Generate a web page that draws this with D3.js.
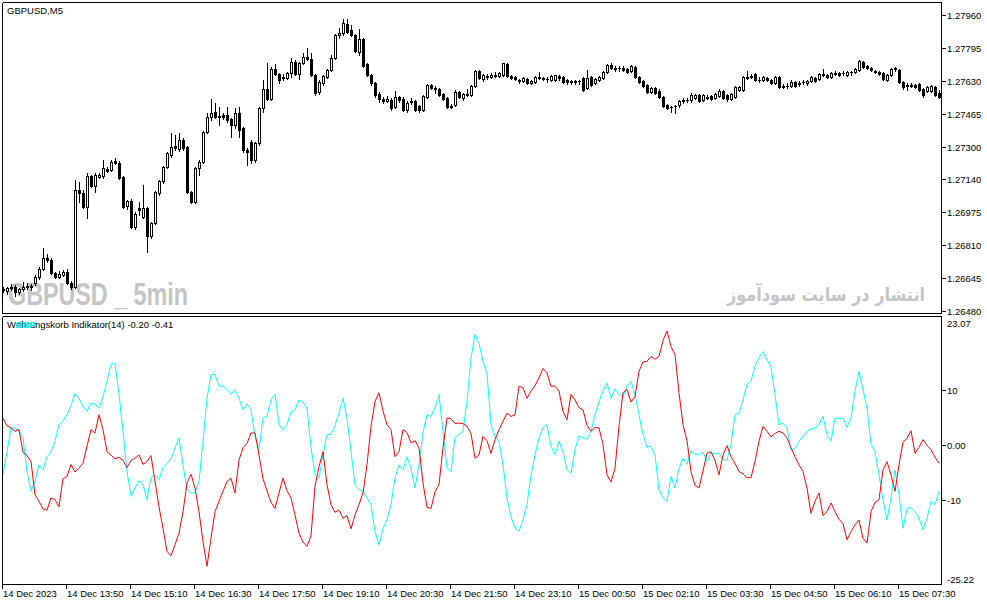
<!DOCTYPE html>
<html>
<head>
<meta charset="utf-8">
<script src="https://cdn.jsdelivr.net/npm/d3@7"></script>
<style>
html, body { margin: 0; padding: 0; background: #fff; }
svg { display: block; font-family: "Liberation Sans", Arial, sans-serif; }
</style>
</head>
<body>
<div id="chart"></div>
<script>
// GBPUSD M5 candles, one per 5 minute bar (14 Dec 12:30 -> 15 Dec 08:00)
const opens = [1.26585,1.26580,1.26595,1.26600,1.26575,1.26590,1.26600,1.26605,1.26620,1.26650,
1.26690,1.26745,1.26735,1.26670,1.26650,1.26660,1.26675,1.26620,1.26600,1.27085,
1.27070,1.27000,1.27155,1.27105,1.27150,1.27155,1.27190,1.27185,1.27230,1.27220,
1.27150,1.27005,1.27030,1.26900,1.26995,1.26950,1.26995,1.26855,1.26920,1.27070,
1.27130,1.27200,1.27260,1.27305,1.27290,1.27335,1.27300,1.27075,1.27025,1.27195,
1.27225,1.27375,1.27450,1.27475,1.27455,1.27460,1.27460,1.27440,1.27410,1.27470,
1.27395,1.27285,1.27325,1.27235,1.27320,1.27495,1.27590,1.27540,1.27690,1.27665,
1.27650,1.27645,1.27670,1.27725,1.27665,1.27720,1.27750,1.27740,1.27660,1.27575,
1.27620,1.27650,1.27685,1.27745,1.27860,1.27870,1.27915,1.27885,1.27860,1.27775,
1.27840,1.27715,1.27660,1.27620,1.27565,1.27540,1.27530,1.27535,1.27500,1.27550,
1.27540,1.27485,1.27530,1.27530,1.27505,1.27485,1.27550,1.27610,1.27595,1.27590,
1.27565,1.27545,1.27500,1.27510,1.27575,1.27545,1.27560,1.27560,1.27605,1.27680,
1.27640,1.27655,1.27650,1.27660,1.27655,1.27660,1.27715,1.27655,1.27650,1.27635,
1.27630,1.27640,1.27620,1.27625,1.27650,1.27645,1.27640,1.27635,1.27635,1.27655,
1.27650,1.27635,1.27630,1.27625,1.27630,1.27645,1.27595,1.27650,1.27620,1.27635,
1.27645,1.27675,1.27710,1.27695,1.27695,1.27695,1.27690,1.27680,1.27700,1.27650,
1.27630,1.27610,1.27575,1.27595,1.27580,1.27550,1.27510,1.27500,1.27505,1.27510,
1.27530,1.27535,1.27535,1.27545,1.27560,1.27535,1.27550,1.27555,1.27545,1.27555,
1.27580,1.27560,1.27540,1.27550,1.27585,1.27585,1.27650,1.27650,1.27665,1.27635,
1.27635,1.27645,1.27635,1.27620,1.27650,1.27605,1.27605,1.27605,1.27625,1.27620,
1.27625,1.27620,1.27630,1.27645,1.27640,1.27665,1.27660,1.27650,1.27670,1.27670,
1.27670,1.27660,1.27675,1.27675,1.27685,1.27725,1.27705,1.27695,1.27680,1.27675,
1.27670,1.27635,1.27660,1.27690,1.27685,1.27625,1.27610,1.27605,1.27610,1.27615,
1.27590,1.27580,1.27580,1.27600,1.27570];

const highs = [1.26600,1.26600,1.26615,1.26610,1.26595,1.26625,1.26620,1.26615,1.26660,1.26700,
1.26795,1.26765,1.26745,1.26675,1.26680,1.26685,1.26690,1.26630,1.27135,1.27125,
1.27085,1.27170,1.27160,1.27170,1.27170,1.27235,1.27200,1.27235,1.27245,1.27230,
1.27155,1.27035,1.27040,1.26975,1.27025,1.27110,1.27000,1.26925,1.27080,1.27135,
1.27205,1.27275,1.27370,1.27360,1.27370,1.27345,1.27305,1.27080,1.27200,1.27235,
1.27380,1.27470,1.27540,1.27520,1.27500,1.27470,1.27500,1.27445,1.27495,1.27500,
1.27400,1.27295,1.27335,1.27325,1.27500,1.27635,1.27720,1.27700,1.27715,1.27670,
1.27665,1.27675,1.27745,1.27735,1.27725,1.27770,1.27795,1.27770,1.27665,1.27635,
1.27660,1.27690,1.27760,1.27865,1.27895,1.27940,1.27940,1.27910,1.27865,1.27890,
1.27845,1.27720,1.27665,1.27625,1.27575,1.27550,1.27555,1.27545,1.27580,1.27555,
1.27550,1.27530,1.27545,1.27535,1.27510,1.27560,1.27615,1.27615,1.27605,1.27595,
1.27570,1.27550,1.27515,1.27585,1.27580,1.27570,1.27590,1.27610,1.27685,1.27685,
1.27665,1.27665,1.27670,1.27675,1.27675,1.27720,1.27720,1.27660,1.27655,1.27640,
1.27650,1.27645,1.27635,1.27655,1.27675,1.27650,1.27650,1.27660,1.27660,1.27660,
1.27655,1.27640,1.27635,1.27635,1.27635,1.27650,1.27685,1.27655,1.27645,1.27655,
1.27680,1.27715,1.27720,1.27705,1.27705,1.27705,1.27695,1.27710,1.27705,1.27655,
1.27635,1.27615,1.27600,1.27600,1.27590,1.27555,1.27515,1.27505,1.27510,1.27535,
1.27545,1.27545,1.27570,1.27565,1.27565,1.27565,1.27560,1.27560,1.27570,1.27590,
1.27585,1.27565,1.27570,1.27605,1.27605,1.27655,1.27680,1.27665,1.27670,1.27650,
1.27655,1.27650,1.27640,1.27655,1.27655,1.27615,1.27620,1.27635,1.27630,1.27630,
1.27635,1.27635,1.27655,1.27650,1.27670,1.27690,1.27665,1.27675,1.27680,1.27675,
1.27680,1.27680,1.27680,1.27695,1.27735,1.27730,1.27710,1.27700,1.27685,1.27680,
1.27675,1.27665,1.27695,1.27700,1.27690,1.27630,1.27620,1.27620,1.27615,1.27620,
1.27595,1.27605,1.27610,1.27605,1.27585];

const lows = [1.26575,1.26565,1.26585,1.26555,1.26565,1.26580,1.26590,1.26585,1.26610,1.26640,
1.26685,1.26725,1.26665,1.26645,1.26645,1.26655,1.26615,1.26590,1.26595,1.27025,
1.26995,1.26945,1.27100,1.27075,1.27145,1.27145,1.27175,1.27180,1.27215,1.27140,
1.26995,1.26990,1.26895,1.26890,1.26960,1.26945,1.26775,1.26845,1.26915,1.27060,
1.27120,1.27195,1.27250,1.27285,1.27280,1.27285,1.27070,1.27020,1.27020,1.27160,
1.27220,1.27370,1.27435,1.27445,1.27410,1.27440,1.27425,1.27350,1.27395,1.27350,
1.27275,1.27210,1.27220,1.27225,1.27310,1.27475,1.27535,1.27535,1.27660,1.27620,
1.27635,1.27640,1.27650,1.27660,1.27640,1.27715,1.27735,1.27655,1.27560,1.27565,
1.27610,1.27645,1.27680,1.27740,1.27845,1.27860,1.27870,1.27855,1.27775,1.27760,
1.27700,1.27655,1.27610,1.27550,1.27525,1.27520,1.27525,1.27485,1.27495,1.27525,
1.27480,1.27475,1.27515,1.27480,1.27475,1.27480,1.27545,1.27590,1.27570,1.27555,
1.27535,1.27495,1.27495,1.27505,1.27545,1.27535,1.27555,1.27555,1.27600,1.27640,
1.27630,1.27640,1.27645,1.27650,1.27650,1.27655,1.27650,1.27640,1.27635,1.27620,
1.27625,1.27615,1.27615,1.27620,1.27640,1.27635,1.27625,1.27630,1.27630,1.27635,
1.27620,1.27615,1.27615,1.27615,1.27615,1.27580,1.27590,1.27605,1.27615,1.27630,
1.27640,1.27670,1.27690,1.27680,1.27680,1.27680,1.27670,1.27675,1.27645,1.27620,
1.27600,1.27570,1.27570,1.27565,1.27545,1.27500,1.27490,1.27475,1.27470,1.27500,
1.27520,1.27525,1.27525,1.27540,1.27525,1.27530,1.27540,1.27535,1.27540,1.27550,
1.27540,1.27530,1.27535,1.27545,1.27580,1.27580,1.27640,1.27645,1.27630,1.27625,
1.27630,1.27630,1.27615,1.27615,1.27595,1.27595,1.27595,1.27600,1.27600,1.27605,
1.27615,1.27610,1.27625,1.27625,1.27635,1.27655,1.27645,1.27645,1.27660,1.27655,
1.27660,1.27655,1.27660,1.27670,1.27680,1.27695,1.27690,1.27680,1.27670,1.27660,
1.27635,1.27630,1.27655,1.27680,1.27620,1.27590,1.27585,1.27600,1.27595,1.27580,
1.27550,1.27575,1.27575,1.27555,1.27545];

const closes = [1.26590,1.26595,1.26600,1.26575,1.26590,1.26600,1.26605,1.26600,1.26650,1.26690,
1.26745,1.26735,1.26670,1.26650,1.26665,1.26675,1.26620,1.26600,1.27085,1.27070,
1.27000,1.27155,1.27105,1.27160,1.27160,1.27195,1.27180,1.27225,1.27220,1.27145,
1.27000,1.27030,1.26900,1.26965,1.26985,1.26995,1.26855,1.26920,1.27075,1.27130,
1.27200,1.27270,1.27300,1.27295,1.27335,1.27295,1.27075,1.27025,1.27195,1.27225,
1.27375,1.27450,1.27470,1.27450,1.27450,1.27450,1.27435,1.27410,1.27470,1.27385,
1.27285,1.27275,1.27235,1.27320,1.27495,1.27590,1.27540,1.27690,1.27665,1.27635,
1.27645,1.27670,1.27725,1.27665,1.27720,1.27750,1.27740,1.27660,1.27570,1.27625,
1.27655,1.27685,1.27745,1.27860,1.27870,1.27920,1.27875,1.27860,1.27780,1.27840,
1.27705,1.27660,1.27620,1.27560,1.27540,1.27530,1.27540,1.27495,1.27550,1.27535,
1.27485,1.27520,1.27525,1.27485,1.27485,1.27555,1.27610,1.27595,1.27590,1.27560,
1.27540,1.27500,1.27505,1.27575,1.27550,1.27565,1.27565,1.27605,1.27680,1.27645,
1.27660,1.27650,1.27660,1.27655,1.27670,1.27720,1.27655,1.27645,1.27640,1.27630,
1.27645,1.27620,1.27630,1.27650,1.27645,1.27640,1.27640,1.27655,1.27660,1.27645,
1.27625,1.27625,1.27625,1.27630,1.27630,1.27585,1.27645,1.27610,1.27640,1.27650,
1.27675,1.27710,1.27695,1.27690,1.27695,1.27685,1.27675,1.27705,1.27650,1.27625,
1.27605,1.27575,1.27595,1.27570,1.27550,1.27505,1.27495,1.27500,1.27505,1.27530,
1.27535,1.27535,1.27560,1.27560,1.27530,1.27560,1.27545,1.27540,1.27565,1.27580,
1.27545,1.27540,1.27565,1.27600,1.27600,1.27650,1.27645,1.27655,1.27635,1.27635,
1.27650,1.27635,1.27620,1.27650,1.27600,1.27600,1.27605,1.27625,1.27605,1.27615,
1.27625,1.27630,1.27650,1.27630,1.27665,1.27660,1.27650,1.27670,1.27665,1.27660,
1.27670,1.27675,1.27675,1.27690,1.27730,1.27700,1.27695,1.27685,1.27675,1.27665,
1.27640,1.27660,1.27690,1.27695,1.27625,1.27600,1.27605,1.27610,1.27600,1.27585,
1.27560,1.27600,1.27605,1.27560,1.27550];

// Waehrungskorb indicator, one value per bar
const basketCyan = [-5.4,-1.2,3.1,3.1,2.6,1.3,-4.8,-8.4,-6.6,-3.6,
-4.5,-2.1,-1.2,0.7,3.7,4.4,5.5,7.2,9.3,8.5,
7.0,6.1,7.6,7.5,6.7,8.8,11.6,14.7,14.9,9.2,
2.5,-4.8,-9.3,-7.8,-6.5,-7.2,-9.9,-5.9,-5.4,-6.3,
-4.1,-3.3,-2.5,-0.5,1.3,-3.6,-8.1,-8.7,-8.7,-6.6,
0.7,8.5,12.8,12.8,10.7,10.7,10.1,9.2,10.1,8.5,
6.4,7.5,6.4,1.6,-0.8,4.9,5.2,8.2,9.2,3.7,
2.8,3.7,6.0,6.4,8.2,7.8,6.7,-0.3,-5.4,-6.0,
-1.8,1.9,1.9,3.6,5.8,8.5,4.9,-1.2,-7.2,-8.1,
-8.4,-9.6,-10.8,-15.7,-18.1,-15.2,-13.6,-10.8,-6.0,-3.6,
-4.5,-2.1,-4.2,-7.8,-3.6,2.2,5.5,5.2,6.7,9.2,
2.5,-4.2,-4.8,1.4,1.9,2.5,7.9,15.8,20.1,18.5,
15.2,12.9,3.7,1.6,0.7,-3.6,-9.6,-13.0,-15.1,-15.6,
-13.6,-10.8,-5.4,-1.8,1.3,3.2,3.7,-0.2,-1.8,0.7,
-1.2,-4.5,-5.1,-0.8,1.6,1.4,1.0,2.6,5.5,7.9,
9.8,11.3,8.5,10.2,9.2,8.8,10.7,11.6,9.2,5.5,
1.9,-0.4,-0.2,-1.8,-8.1,-9.6,-10.2,-5.7,-7.8,-4.2,
-2.4,-3.5,-1.0,-1.6,-1.8,-1.3,-3.0,-1.5,-1.5,-1.5,
-2.7,-2.7,0.1,5.5,5.8,8.2,11.0,11.6,14.3,15.9,
17.0,15.5,14.1,9.2,3.7,4.0,3.1,-0.8,-0.7,0.7,
1.5,2.5,2.9,3.1,3.7,5.2,1.9,0.7,4.9,4.8,
4.9,3.2,4.9,9.8,13.4,10.1,6.7,0.1,-1.2,-5.4,
-9.9,-13.6,-9.6,-4.5,-9.0,-15.1,-11.6,-11.3,-12.1,-13.3,
-15.4,-13.3,-10.2,-10.8,-8.4];

const basketRed = [4.9,3.5,3.1,2.5,2.8,-1.3,-1.9,-3.0,-9.0,-10.2,
-11.6,-11.8,-9.6,-9.9,-11.2,-6.1,-5.7,-3.5,-4.9,-4.2,
-3.3,-0.2,2.8,2.2,5.5,2.8,-1.2,-1.8,-2.5,-2.2,
-2.8,-4.1,-2.8,-2.4,-1.8,-3.5,-3.0,-1.9,-6.6,-11.2,
-15.1,-19.3,-20.1,-18.1,-16.0,-12.1,-6.9,-5.3,-7.8,-12.1,
-17.5,-22.0,-16.9,-12.1,-10.2,-8.4,-6.6,-6.0,-8.7,-2.7,
-0.5,0.3,2.2,2.2,-1.8,-6.1,-8.3,-10.4,-11.5,-8.7,
-6.0,-8.3,-9.6,-12.7,-16.0,-17.6,-18.4,-16.5,-7.5,-3.9,
-1.2,-7.2,-10.8,-12.2,-11.8,-13.3,-12.8,-15.2,-12.7,-10.8,
-8.7,-3.5,3.4,7.9,9.5,6.2,3.7,2.8,-2.1,-1.2,
2.8,2.3,0.4,0.8,-0.5,-6.9,-11.3,-11.5,-8.5,-7.2,
-0.5,4.9,4.8,3.9,4.0,3.9,3.4,2.1,-2.4,-1.8,
1.6,0.8,-1.5,1.0,2.8,4.3,5.8,5.2,5.5,10.7,
10.4,8.5,9.8,10.8,12.2,13.9,13.1,10.7,10.7,9.8,
6.1,4.6,9.2,8.2,6.8,6.4,3.6,2.5,3.2,3.1,
0.1,-5.4,-6.7,-4.2,3.4,9.5,10.1,7.8,8.8,13.4,
15.1,15.2,16.1,15.6,16.1,19.0,20.7,17.9,16.4,9.5,
3.7,0.8,-4.8,-7.3,-7.8,-4.7,-1.5,-1.2,-2.8,-5.4,
-1.8,-0.1,-2.1,-3.3,-4.8,-5.2,-5.9,-5.9,-3.0,0.7,
3.4,2.5,1.5,2.1,2.5,2.2,1.3,-0.5,-2.1,-3.6,
-4.8,-7.8,-12.4,-10.2,-8.7,-12.8,-12.1,-10.5,-12.1,-13.5,
-14.2,-17.2,-15.7,-14.5,-13.6,-16.9,-17.8,-12.1,-10.4,-9.9,
-4.5,-3.0,-5.4,-8.4,-3.6,0.5,1.2,2.6,-1.5,-0.4,
1.0,-0.1,-0.8,-2.2,-3.3];

// axis labels
const priceTicks = [1.27960, 1.27795, 1.27630, 1.27465, 1.27300, 1.27140, 1.26975, 1.26810, 1.26645, 1.26480];
const indTicks = [23.07, 10, 0, -10, -25.22];
const indTickLabels = ["23.07", "10", "0.00", "-10", "-25.22"];
const timeLabels = ["14 Dec 2023", "14 Dec 13:50", "14 Dec 15:10", "14 Dec 16:30", "14 Dec 17:50",
  "14 Dec 19:10", "14 Dec 20:30", "14 Dec 21:50", "14 Dec 23:10", "15 Dec 00:50",
  "15 Dec 02:10", "15 Dec 03:30", "15 Dec 04:50", "15 Dec 06:10", "15 Dec 07:30"];
const barsPerTimeLabel = 16;

// layout
const W = 987, H = 605;
const left = 2, right = 941;
const mainTop = 2, mainBottom = 313;
const subTop = 316, subBottom = 584;

const svg = d3.select("#chart")
  .append("svg")
  .attr("width", W)
  .attr("height", H);

svg.append("rect").attr("width", W).attr("height", H).attr("fill", "#fff");

const x = d3.scaleLinear().domain([0, opens.length - 1]).range([3, 939]);
const yPrice = d3.scaleLinear().domain([1.26470, 1.28025]).range([mainBottom, mainTop]);
const yInd = d3.scaleLinear().domain([-25.22, 23.07]).range([584, 318]);

const px = v => Math.round(v) + 0.5;

// watermarks (behind everything)
svg.append("text")
  .attr("x", 8).attr("y", 305)
  .attr("font-size", 31).attr("font-weight", "bold")
  .attr("fill", "#c4c4c4")
  .attr("textLength", 180).attr("lengthAdjust", "spacingAndGlyphs")
  .text("GBPUSD _ 5min");

svg.append("text")
  .attr("x", 727).attr("y", 301)
  .attr("font-family", "'DejaVu Sans', sans-serif")
  .attr("font-size", 19).attr("font-weight", "bold")
  .attr("fill", "#c4c4c4")
  .attr("textLength", 198).attr("lengthAdjust", "spacingAndGlyphs")
  .text("انتشار در سایت سودآموز");

// candles
const candles = svg.append("g").attr("shape-rendering", "crispEdges");
opens.forEach((o, i) => {
  const c = closes[i];
  const cx = px(x(i));
  candles.append("line")
    .attr("x1", cx).attr("x2", cx)
    .attr("y1", Math.round(yPrice(highs[i]))).attr("y2", Math.round(yPrice(lows[i])) + 1)
    .attr("stroke", "#000");
  const top = Math.round(yPrice(Math.max(o, c)));
  const bot = Math.round(yPrice(Math.min(o, c)));
  if (bot - top < 1) {
    candles.append("line")
      .attr("x1", cx - 1.5).attr("x2", cx + 1.5)
      .attr("y1", top + 0.5).attr("y2", top + 0.5)
      .attr("stroke", "#000");
  } else {
    candles.append("rect")
      .attr("x", cx - 1).attr("width", 2)
      .attr("y", top + 0.5).attr("height", bot - top)
      .attr("fill", c >= o ? "#fff" : "#000")
      .attr("stroke", "#000");
  }
});

// indicator lines
svg.append("clipPath").attr("id", "subclip")
  .append("rect").attr("x", left).attr("y", subTop).attr("width", right - left).attr("height", subBottom - subTop);

const line = d3.line()
  .x((d, i) => x(i))
  .y(d => yInd(d));

svg.append("path")
  .datum(basketCyan)
  .attr("clip-path", "url(#subclip)")
  .attr("fill", "none").attr("stroke", "#00ffff").attr("stroke-width", 1)
  .attr("d", line);

svg.append("path")
  .datum(basketRed)
  .attr("clip-path", "url(#subclip)")
  .attr("fill", "none").attr("stroke", "#ff0000").attr("stroke-width", 1)
  .attr("d", line);

// frames
const frame = svg.append("g").attr("stroke", "#000").attr("shape-rendering", "crispEdges");
[[left, mainTop, right, mainTop], [left, mainBottom, right, mainBottom],
 [left, subTop, right, subTop], [left, subBottom, right, subBottom],
 [left, mainTop, left, mainBottom], [left, subTop, left, subBottom],
 [right, mainTop, right, mainBottom], [right, subTop, right, subBottom]]
  .forEach(s => frame.append("line")
    .attr("x1", s[0] + 0.5).attr("y1", s[1] + 0.5)
    .attr("x2", s[2] + 0.5).attr("y2", s[3] + 0.5));

// price axis
const pAxis = svg.append("g");
priceTicks.forEach(p => {
  const yy = px(yPrice(p));
  pAxis.append("line")
    .attr("x1", right).attr("x2", right + 5)
    .attr("y1", yy).attr("y2", yy)
    .attr("stroke", "#000").attr("shape-rendering", "crispEdges");
  pAxis.append("text")
    .attr("x", right + 6).attr("y", yy + 3.5)
    .attr("font-size", 9.5).attr("fill", "#000")
    .text(d3.format(".5f")(p));
});

// indicator axis
const iAxis = svg.append("g");
indTicks.forEach((v, k) => {
  const yy = px(yInd(v));
  const last = k === indTicks.length - 1;
  if (k > 0 && !last) {
    iAxis.append("line")
      .attr("x1", right).attr("x2", right + 5)
      .attr("y1", yy).attr("y2", yy)
      .attr("stroke", "#000").attr("shape-rendering", "crispEdges");
  }
  let ty = yy + 3.5;
  if (k === 0) ty = yy + 8;
  if (last) ty = yy - 2;
  iAxis.append("text")
    .attr("x", right + 6).attr("y", ty)
    .attr("font-size", 9.5).attr("fill", "#000")
    .text(indTickLabels[k]);
});

// time axis
const tAxis = svg.append("g");
timeLabels.forEach((t, k) => {
  const xx = px(x(k * barsPerTimeLabel)) - 1;
  tAxis.append("line")
    .attr("x1", xx).attr("x2", xx)
    .attr("y1", subBottom).attr("y2", subBottom + 5)
    .attr("stroke", "#000").attr("shape-rendering", "crispEdges");
  tAxis.append("text")
    .attr("x", xx + 0.5).attr("y", 597)
    .attr("font-size", 9.5).attr("fill", "#000")
    .text(t);
});

// titles
svg.append("text")
  .attr("x", 7).attr("y", 14)
  .attr("font-size", 9.5).attr("fill", "#000")
  .text("GBPUSD,M5");

const legend = svg.append("g");
legend.append("text")
  .attr("x", 7).attr("y", 328)
  .attr("font-size", 9.5).attr("fill", "#000")
  .text("Währungskorb Indikator(14) -0.20 -0.41");
legend.append("text")
  .attr("x", 15).attr("y", 328)
  .attr("font-size", 9.5).attr("font-weight", "bold").attr("fill", "#00ffff")
  .text("GBP");
</script>
</body>
</html>
